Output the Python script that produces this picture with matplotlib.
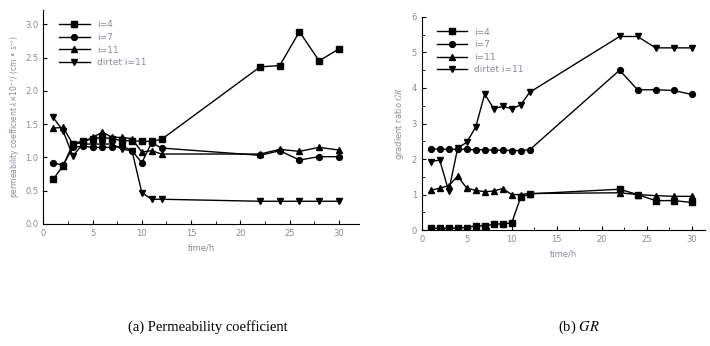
import numpy as np
from matplotlib import pyplot as plt

plt.rcParams['mathtext.fontset'] = 'stix'

t = [1, 2, 3, 4, 5, 6, 7, 8, 9, 10, 11, 12, 22, 24, 26, 28, 30]
labels = ['i=4', 'i=7', 'i=11', 'dirtet i=11']

# (a) permeability coefficient
k_i4 = [0.67, 0.87, 1.20, 1.25, 1.28, 1.30, 1.28, 1.25, 1.25, 1.24, 1.24, 1.27, 2.36, 2.38, 2.89, 2.45, 2.63]
k_i7 = [0.92, 0.88, 1.15, 1.17, 1.15, 1.15, 1.15, 1.17, 1.10, 0.92, 1.22, 1.14, 1.03, 1.10, 0.96, 1.01, 1.01]
k_i11 = [1.44, 1.45, 1.20, 1.22, 1.30, 1.38, 1.30, 1.30, 1.28, 1.08, 1.10, 1.05, 1.05, 1.12, 1.09, 1.15, 1.11]
k_dir = [1.60, 1.40, 1.02, 1.20, 1.20, 1.20, 1.20, 1.12, 1.10, 0.47, 0.37, 0.37, 0.34, 0.34, 0.34, 0.34, 0.34]

# (b) gradient ratio GR
gr_i4 = [0.05, 0.05, 0.05, 0.06, 0.07, 0.12, 0.12, 0.16, 0.18, 0.20, 0.92, 1.02, 1.15, 1.00, 0.83, 0.83, 0.78]
gr_i7 = [2.28, 2.28, 2.27, 2.28, 2.27, 2.26, 2.26, 2.25, 2.25, 2.24, 2.24, 2.26, 4.50, 3.95, 3.95, 3.93, 3.82]
gr_i11 = [1.12, 1.18, 1.25, 1.52, 1.18, 1.12, 1.08, 1.10, 1.17, 1.00, 1.00, 1.03, 1.05, 1.00, 0.97, 0.95, 0.95]
gr_dir = [1.93, 1.97, 1.10, 2.31, 2.47, 2.90, 3.83, 3.42, 3.48, 3.42, 3.52, 3.88, 5.45, 5.45, 5.13, 5.13, 5.13]

markers = ['s', 'o', '^', 'v']
gray = '#8a8a98'

fig = plt.figure(figsize=(7.1, 3.46), dpi=100)
ax1 = fig.add_axes([0.061, 0.353, 0.444, 0.619])
ax2 = fig.add_axes([0.594, 0.335, 0.399, 0.616])

def draw(ax, series, xmax, ylim, major_y, minor_y):
    for y, m, lab in zip(series, markers, labels):
        ax.plot(t, y, color='black', lw=1, marker=m, ms=4.2, label=lab)
    ax.set_xlim(0, xmax)
    ax.set_ylim(*ylim)
    ax.set_xticks(np.arange(0, 31, 5))
    ax.set_xticks(np.arange(2.5, 31, 5), minor=True)
    ax.set_yticks(major_y)
    ax.set_yticks(minor_y, minor=True)
    for s in ['top', 'right']:
        ax.spines[s].set_visible(False)
    ax.tick_params(direction='in', labelsize=6, labelcolor=gray, length=3)
    ax.tick_params(which='minor', direction='in', length=2)
    ax.set_xlabel('time/h', fontsize=6, color=gray, labelpad=4)
    ax.legend(loc='upper left', bbox_to_anchor=(0.03, 0.98), frameon=False,
              fontsize=6.5, labelcolor=gray, handlelength=3.4,
              labelspacing=0.4, borderaxespad=0.3)

draw(ax1, [k_i4, k_i7, k_i11, k_dir], 32, (0, 3.22),
     np.arange(0, 3.01, 0.5), [])
ax1.set_ylabel('permeability coefficient $k$×10$^{-3}$/ (cm • s$^{-1}$)',
               fontsize=5.5, color=gray, labelpad=2)

draw(ax2, [gr_i4, gr_i7, gr_i11, gr_dir], 31.5, (0, 6),
     np.arange(0, 7, 1), np.arange(0.5, 6, 1))
ax2.set_ylabel('gradient ratio $GR$', fontsize=6, color=gray, labelpad=4)

fig.text(0.292, 0.045, '(a) Permeability coefficient', ha='center',
         fontsize=10.5, family='Liberation Serif')
fig.text(0.815, 0.045, '(b) $GR$', ha='center', fontsize=10.5,
         family='Liberation Serif')

fig.savefig('out.png', dpi=100)
